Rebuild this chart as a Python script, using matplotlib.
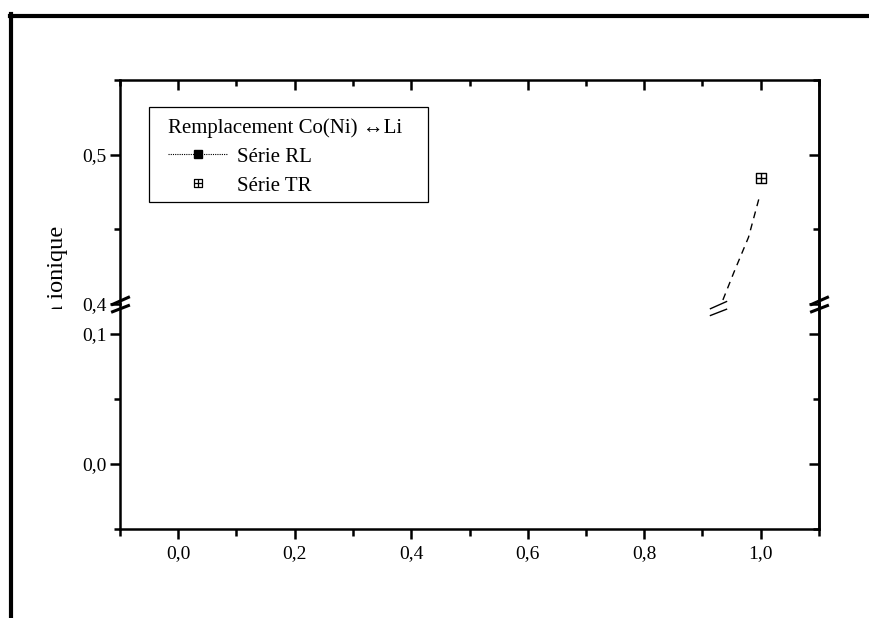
import numpy as np
import matplotlib
matplotlib.use('Agg')
import matplotlib.pyplot as plt
from matplotlib.path import Path
from matplotlib.lines import Line2D
from matplotlib.patches import Rectangle
from matplotlib.transforms import Bbox

plt.rcParams['font.family'] = ['Liberation Serif', 'DejaVu Serif']

# Data
tr_x = [1.0]
tr_y = [0.4847]
tr_line_x = [0.935, 0.954, 0.979, 0.997]
tr_line_y = [0.4027, 0.4213, 0.4447, 0.4707]
rl_x = []
rl_y = []

x_ticks = [0.0, 0.2, 0.4, 0.6, 0.8, 1.0]
x_labels = ['0,0', '0,2', '0,4', '0,6', '0,8', '1,0']
upper_ticks = [0.4, 0.5]
upper_labels = ['0,4', '0,5']
lower_ticks = [0.0, 0.1]
lower_labels = ['0,0', '0,1']

fig = plt.figure(figsize=(8.7, 6.18), dpi=100)
fig.patch.set_facecolor('white')

left, width = 120 / 870, (819 - 120) / 870
ax_lo = fig.add_axes([left, 1 - 529 / 618, width, (529 - 304) / 618])
ax_hi = fig.add_axes([left, 1 - 304 / 618, width, (304 - 80) / 618])
ax_lo.patch.set_visible(False)
ax_hi.patch.set_visible(False)
ax_hi.set_zorder(3)

lw = 1.8
for ax in (ax_hi, ax_lo):
    ax.set_xlim(-0.1, 1.1)
    for s in ax.spines.values():
        s.set_linewidth(lw)
    ax.set_xticks(x_ticks)
    ax.set_xticks(np.arange(-0.1, 1.11, 0.2), minor=True)
    ax.tick_params(axis='y', which='both', left=True, right=False, direction='out',
                   width=lw, labelsize=14, pad=2)
    ax.tick_params(axis='y', which='major', length=7.5)
    ax.tick_params(axis='y', which='minor', length=4)

ax_hi.set_ylim(0.4, 0.55)
ax_lo.set_ylim(-0.05, 0.123)
ax_hi.spines['bottom'].set_visible(False)
ax_lo.spines['top'].set_visible(False)

ax_hi.set_yticks(upper_ticks)
ax_hi.set_yticklabels(upper_labels)
ax_hi.set_yticks([0.45, 0.55], minor=True)
ax_lo.set_yticks(lower_ticks)
ax_lo.set_yticklabels(lower_labels)
ax_lo.set_yticks([-0.05, 0.05], minor=True)

ax_hi.tick_params(axis='x', which='both', bottom=False, top=True, labelbottom=False,
                  direction='in', width=lw)
ax_hi.tick_params(axis='x', which='major', length=7.5)
ax_hi.tick_params(axis='x', which='minor', length=4.5)
ax_lo.set_xticklabels(x_labels)
ax_lo.tick_params(axis='x', which='both', bottom=True, top=False, direction='out',
                  width=lw, labelsize=14, pad=4)
ax_lo.tick_params(axis='x', which='major', length=7.5)
ax_lo.tick_params(axis='x', which='minor', length=5)

# right side ticks (inward)
for ax in (ax_hi, ax_lo):
    axr = ax.secondary_yaxis('right')
    axr.set_yticks(ax.get_yticks())
    axr.set_yticks(ax.get_yticks(minor=True), minor=True)
    axr.tick_params(axis='y', which='both', direction='in', width=lw, labelright=False)
    axr.tick_params(axis='y', which='major', length=7)
    axr.tick_params(axis='y', which='minor', length=4.5)
    axr.spines['right'].set_linewidth(lw)

# plus-square marker for the TR series
plus_sq = Path([(-1, -1), (1, -1), (1, 1), (-1, 1), (-1, -1),
                (0, -1), (0, 1), (-1, 0), (1, 0)],
               [Path.MOVETO, Path.LINETO, Path.LINETO, Path.LINETO, Path.CLOSEPOLY,
                Path.MOVETO, Path.LINETO, Path.MOVETO, Path.LINETO])

ax_hi.plot(tr_line_x, tr_line_y, color='black', lw=1.0, ls=(0, (5, 4)))
ax_hi.plot(tr_x, tr_y, ls='none', marker=plus_sq, ms=6.5, mfc='white', mec='black', mew=1.0)
ax_hi.plot(rl_x, rl_y, ls=':', marker='s', color='black')

# break marks
brk = Path([(-9, -7.5), (9, -0.5), (-9, -0.5), (9, 7.5)],
           [Path.MOVETO, Path.LINETO, Path.MOVETO, Path.LINETO])
ax_hi.plot([0, 1], [0, 0], transform=ax_hi.transAxes, ls='none', marker=brk,
           ms=13.5, mec='black', mew=2.2, clip_on=False)
ax_hi.plot([0.927], [0.3973], ls='none', marker=brk, ms=12.5, mec='black',
           mew=1.0, clip_on=False)

# legend
h_rl = Line2D([], [], color='black', ls=(0, (1, 1)), lw=0.8, marker='s', ms=5.5,
              mfc='black', mec='black')
h_tr = Line2D([], [], ls='none', marker=plus_sq, ms=5.5, mfc='white', mec='black', mew=0.9)
leg = fig.legend([h_rl, h_tr], ['Série RL', 'Série TR'],
                 title='Remplacement Co(Ni) \u2194Li', title_fontsize=15, fontsize=15,
                 loc='upper left', bbox_to_anchor=(168 / 870, 1 - 118 / 618),
                 frameon=False, borderpad=0, borderaxespad=0,
                 handlelength=2.9, handletextpad=0.4, labelspacing=0.45,
                 alignment='left')
fig.add_artist(Rectangle((149 / 870, 1 - 202 / 618), (428 - 149) / 870, 95 / 618,
                         transform=fig.transFigure, fill=False, ec='black', lw=0.9))

# clipped y label
yl = fig.text(58 / 870, 1 - 297 / 618, 'Rayon ionique', rotation=90, ha='center',
              va='center', fontsize=17.5)
yl.set_clip_box(Bbox([[0, 618 - 309], [870, 618]]))
yl.set_clip_on(True)

# heavy frame lines
fig.add_artist(Line2D([10 / 870, 1.0], [1 - 16 / 618, 1 - 16 / 618], color='black', lw=3,
                      transform=fig.transFigure))
fig.add_artist(Line2D([11.5 / 870, 11.5 / 870], [0, 1 - 14 / 618], color='black', lw=3,
                      transform=fig.transFigure))

fig.savefig('out.png', dpi=100)
